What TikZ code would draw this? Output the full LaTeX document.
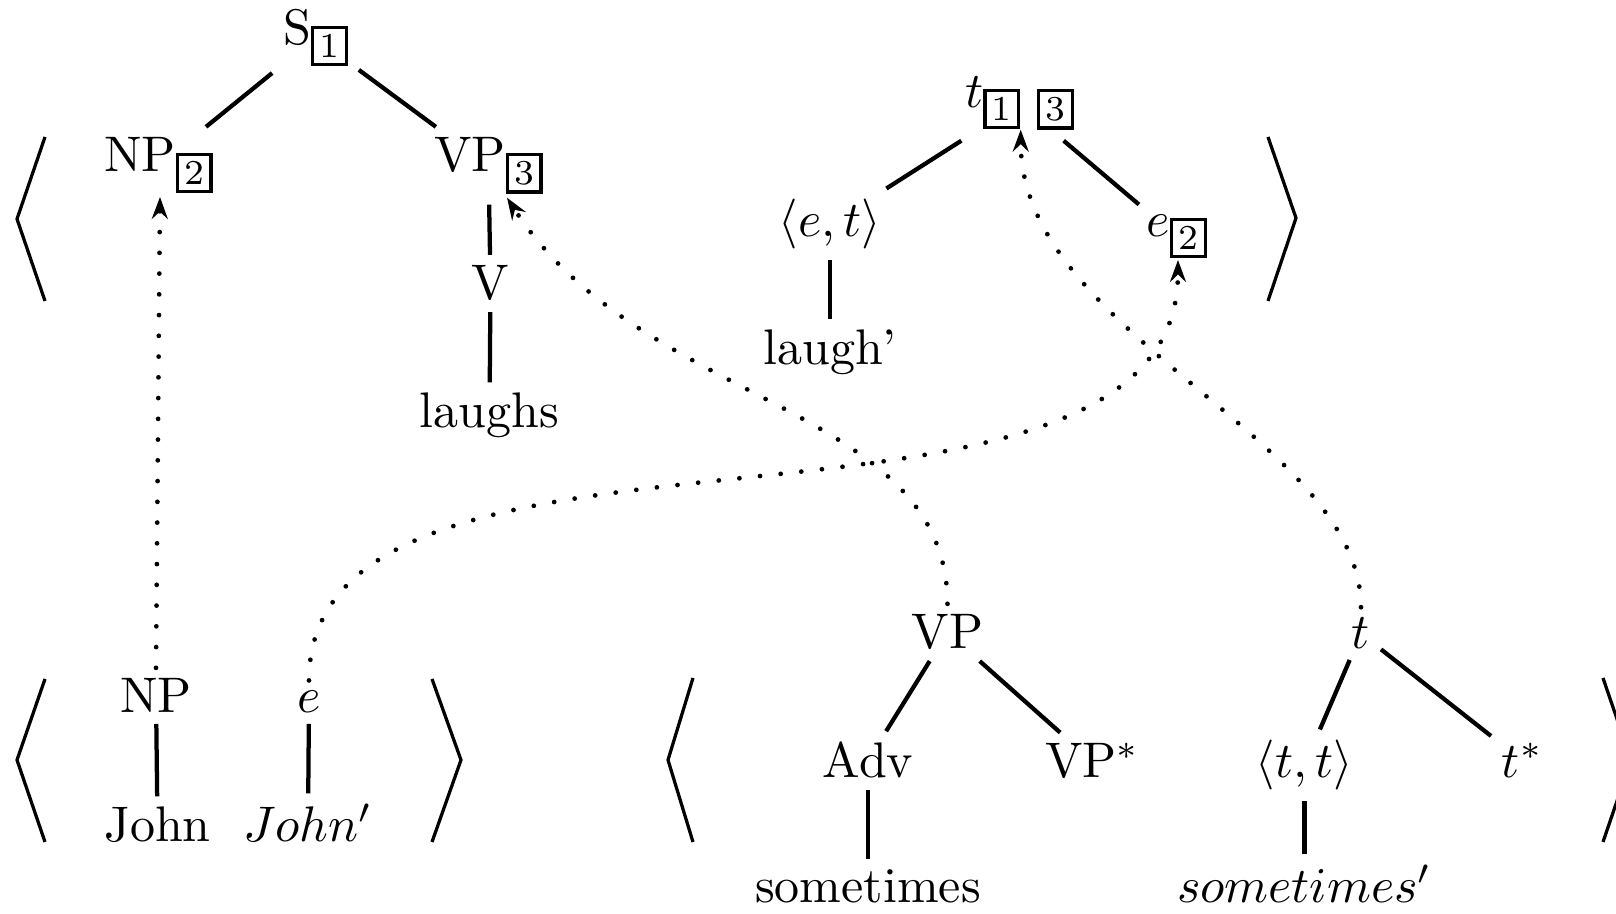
\documentclass[tikz,border=0pt]{standalone}
\usetikzlibrary{arrows.meta,calc}
\newcommand\bx[1]{\raisebox{-2.5pt}{\fboxsep=1.05pt\fboxrule=0.65pt\fbox{\scriptsize #1}}}
\begin{document}
\begin{tikzpicture}[x=0.2pt,y=-0.2pt,
  lbl/.style={inner sep=2.2pt,outer sep=0pt,anchor=base},
  treeline/.style={line width=0.85pt},
  bracket/.style={line width=0.65pt,line join=miter},
  darrow/.style={line width=0.95pt,line cap=round,dash pattern=on 0pt off 4.15pt,
    -{Stealth[length=4.4pt,width=3.2pt,inset=1.5pt]}}]
\useasboundingbox (0,0) rectangle (1616,914);
\clip (0,0) rectangle (1616,914);
% ---------- top pair ----------
\draw[bracket] (45,137) -- (17,219) -- (45,301);
\draw[bracket] (1268,137) -- (1296,218) -- (1268,301);
\node[lbl] (s1) at (315.5,45) {S\bx{1}};
\node[lbl] (np2) at (158.5,172) {NP\bx{2}};
\node[lbl] (vp3) at (488.5,172) {VP\bx{3}};
\node[lbl] (v) at (490.5,300) {V};
\node[lbl] (laughs) at (489.5,428) {laughs};
\node[lbl] (t13) at (1019.7,108) {$t$\bx{1} \bx{3}};
\node[lbl] (et) at (830,237) {$\langle e,t\rangle$};
\node[lbl] (e2) at (1177,237) {$e$\bx{2}};
\node[lbl] (laughp) at (830,365) {laugh'};
\draw[treeline] (s1) -- (np2);
\draw[treeline] (s1) -- (vp3);
\draw[treeline] (vp3) -- (v);
\draw[treeline] (v) -- (laughs);
\draw[treeline] (t13) -- (et);
\draw[treeline] (t13) -- (e2);
\draw[treeline] (et) -- (laughp);
% ---------- bottom left pair ----------
\draw[bracket] (45,679) -- (17,760) -- (45,842);
\draw[bracket] (432,679) -- (461,760) -- (432,842);
\node[lbl] (npb) at (156,713) {NP};
\node[lbl] (john) at (157.5,842) {John};
\node[lbl] (eb) at (309,713) {$e$};
\node[lbl] (johnp) at (308,842) {$John'$};
\draw[treeline] (npb) -- (john);
\draw[treeline] (eb) -- (johnp);
% ---------- bottom right pair ----------
\draw[bracket] (693,678) -- (668,760) -- (693,842);
\draw[bracket] (1603,678) -- (1631,760) -- (1603,842);
\node[lbl] (vpb) at (947.5,649) {VP};
\node[lbl] (adv) at (868,778) {Adv};
\node[lbl] (vpstar) at (1092.5,778) {VP$^*$};
\node[lbl] (sometimes) at (868,903) {sometimes};
\node[lbl] (tb) at (1361,649) {$t$};
\node[lbl] (tt) at (1304.5,778) {$\langle t,t\rangle$};
\node[lbl] (tstar) at (1522.5,778) {$t^*$};
\node[lbl] (sometimesp) at (1304.5,903) {$sometimes'$};
\draw[treeline] (vpb) -- (adv);
\draw[treeline] (vpb) -- (vpstar);
\draw[treeline] (adv) -- (sometimes);
\draw[treeline] (tb) -- (tt);
\draw[treeline] (tb) -- (tstar);
\draw[treeline] (tt) -- (sometimesp);
% ---------- dotted links ----------
\draw[darrow] (npb.north) -- ($(np2.south)+(1.5,-7)$);
\draw[darrow] (eb.north) .. controls +(0,-314) and +(0,330) .. ($(e2.south)+(1,-9)$);
\draw[darrow] (vpb.north) .. controls +(0,-200) and +(135,210) .. ($(vp3.south)+(18.5,-7)$);
\draw[darrow] (tb.north) .. controls +(0,-169) and +(0,204) .. ($(t13.south)+(1,-11)$);
\end{tikzpicture}
\end{document}
